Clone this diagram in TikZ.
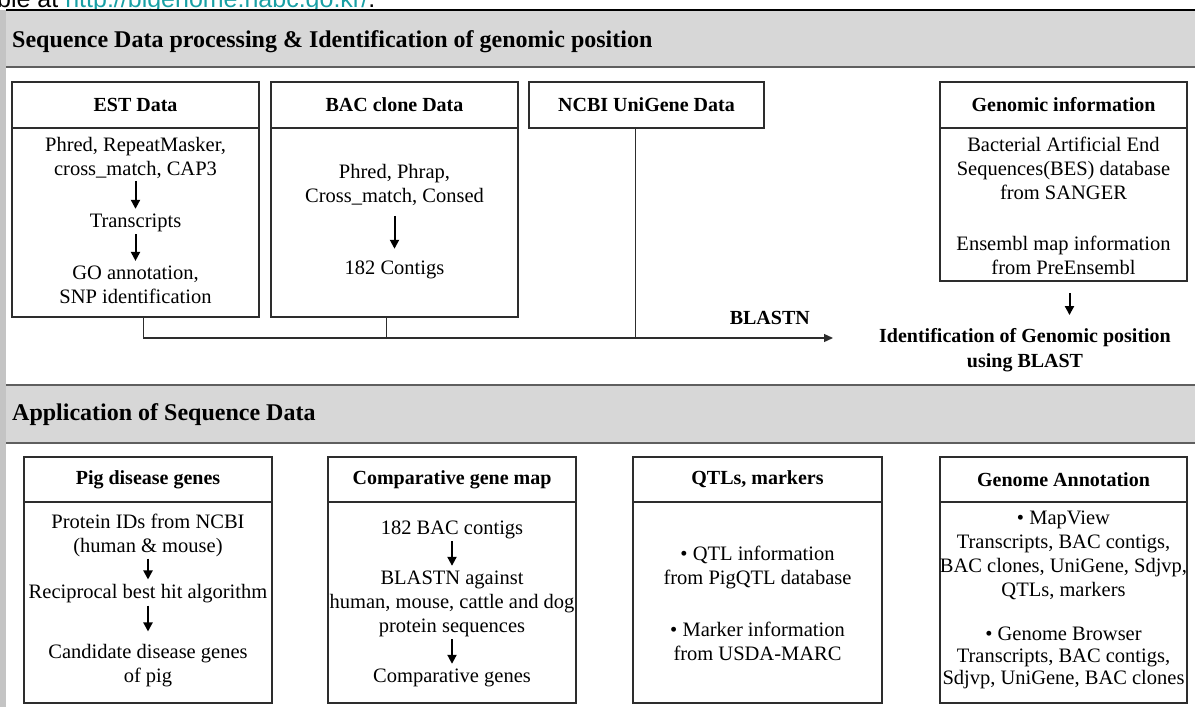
\documentclass[tikz,border=0pt]{standalone}
\usepackage{fontspec}
\setmainfont{Liberation Serif}
\newfontfamily\urlfont{Liberation Sans}
\usepackage{xcolor}
\definecolor{bandgray}{RGB}{215,215,215}
\definecolor{rulegray}{RGB}{95,95,95}
\definecolor{stripgray}{RGB}{196,196,196}
\definecolor{linkteal}{RGB}{25,160,165}
\definecolor{boxline}{RGB}{45,45,45}
\usepackage{tikz}
\usetikzlibrary{arrows.meta,positioning,calc}

\begin{document}
\begin{tikzpicture}[
  x=1pt, y=-1pt,
  head/.style={
    draw=boxline, line width=1.3pt, outer sep=0pt, inner sep=0pt,
    minimum height=46pt, font=\bfseries\fontsize{20}{24}\selectfont
  },
  body/.style={draw=boxline, line width=1.3pt, outer sep=0pt, inner sep=0pt},
  txt/.style={font=\fontsize{20.5}{24}\selectfont, align=center, inner sep=2pt},
  band/.style={font=\bfseries\fontsize{24}{28}\selectfont, anchor=west, inner sep=0pt},
  arr/.style={-{Triangle[length=9pt,width=9pt]}, line width=2pt, shorten >=3pt},
  wire/.style={draw=boxline, line width=1.3pt},
]

\useasboundingbox (0,0) rectangle (1195,707);
\clip (0,0) rectangle (1195,707);

% page strip, cut caption line and the two section bands
\fill[stripgray] (0,10) rectangle (6,707);
\node[font=\urlfont\fontsize{25}{28}\selectfont, anchor=base west, inner sep=0pt]
  (cap) at (-3,7.5) {ble at \textcolor{linkteal}{http://bigenome.nabc.go.kr/}.};
\fill[bandgray] (6,11) rectangle (1195,66);
\draw[black, line width=2pt] (6,10) -- (1195,10);
\draw[rulegray, line width=2pt] (6,67) -- (1195,67);
\fill[bandgray] (6,386) rectangle (1195,443);
\draw[rulegray, line width=2pt] (6,385) -- (1195,385);
\draw[rulegray, line width=2pt] (6,443) -- (1195,443);

\node[band] (sec1) at (12,42) {Sequence Data processing \& Identification of genomic position};
\node[band] (sec2) at (12,415) {Application of Sequence Data};

% upper row of boxes
\node[head, minimum width=247pt] (est) at (135.5,105) {EST Data};
\node[body, minimum width=247pt, minimum height=189pt, below=0pt of est] (estb) {};
\node[head, minimum width=247pt] (bac) at (394.5,105) {BAC clone Data};
\node[body, minimum width=247pt, minimum height=189pt, below=0pt of bac] (bacb) {};
\node[head, minimum width=235pt] (ncbi) at (646.5,105) {NCBI UniGene Data};
\node[head, minimum width=247pt] (gen) at (1063.5,105) {Genomic information};
\node[body, minimum width=247pt, minimum height=153pt, below=0pt of gen] (genb) {};

\node[txt] (e1) at (135.5,158) {Phred, RepeatMasker,\\cross\_match, CAP3};
\node[txt] (e2) at (135.5,223) {Transcripts};
\node[txt] (e3) at (135.5,285) {GO annotation,\\SNP identification};
\draw[arr] (e1) -- (e2);
\draw[arr] (e2) -- (e3);

\node[txt] (b1) at (394.5,185) {Phred, Phrap,\\Cross\_match, Consed};
\node[txt] (b2) at (394.5,270) {182 Contigs};
\draw[arr, shorten <=8pt, shorten >=10pt] (b1) -- (b2);

\node[txt] (g1) at (1063.5,168) {Bacterial Artificial End\\Sequences(BES) database\\from SANGER};
\node[txt] (g2) at (1063.5,255) {Ensembl map information\\from PreEnsembl};

% merging the three sources into BLASTN
\node[txt, font=\bfseries\fontsize{20}{25}\selectfont] (ident) at (1025,350)
  {Identification of Genomic position\\using BLAST};
\coordinate (tip) at (833,338);
\node[txt, font=\bfseries\fontsize{20}{24}\selectfont, anchor=east] (blastn) at (812,318) {BLASTN};
\draw[wire, -{Triangle[length=9pt,width=8pt]}] ([xshift=8pt]estb.south) |- (tip);
\draw[wire] ([xshift=-8pt]bacb.south) -- ([xshift=-8pt]bacb.south |- tip);
\draw[wire] ([xshift=-11pt]ncbi.south) -- ([xshift=-11pt]ncbi.south |- tip);
\draw[arr, shorten <=12pt, shorten >=11pt] ([xshift=6pt]genb.south) -- ([xshift=6pt]genb.south |- ident.north);

% lower row of boxes
\node[head, minimum width=248pt, minimum height=45pt] (pig) at (148,479.5) {Pig disease genes};
\node[body, minimum width=248pt, minimum height=201pt, below=0pt of pig] (pigb) {};
\node[head, minimum width=248pt, minimum height=45pt] (cmp) at (452,479.5) {Comparative gene map};
\node[body, minimum width=248pt, minimum height=201pt, below=0pt of cmp] (cmpb) {};
\node[head, minimum width=249pt, minimum height=45pt] (qtl) at (757.5,479.5) {QTLs, markers};
\node[body, minimum width=249pt, minimum height=201pt, below=0pt of qtl] (qtlb) {};
\node[head, minimum width=247pt, minimum height=45pt] (ann) at (1063.5,479.5) {Genome Annotation};
\node[body, minimum width=247pt, minimum height=201pt, below=0pt of ann] (annb) {};

\node[txt] (p1) at (148,535) {Protein IDs from NCBI\\(human \& mouse)};
\node[txt] (p2) at (148,594) {Reciprocal best hit algorithm};
\node[txt] (p3) at (148,666) {Candidate disease genes\\of pig};
\draw[arr] (p1) -- (p2);
\draw[arr, shorten >=11pt] (p2) -- (p3);

\node[txt] (c1) at (452,530) {182 BAC contigs};
\node[txt] (c2) at (452,604) {BLASTN against\\human, mouse, cattle and dog\\protein sequences};
\node[txt] (c3) at (452,678) {Comparative genes};
\draw[arr] (c1) -- (c2);
\draw[arr] (c2) -- (c3);

\node[txt] (q1) at (757.5,567) {• QTL information\\from PigQTL database};
\node[txt] (q2) at (757.5,641) {• Marker information\\from USDA-MARC};

\node[txt] (a1) at (1063.5,555) {• MapView\\Transcripts, BAC contigs,\\BAC clones, UniGene, Sdjvp,\\QTLs, markers};
\node[txt, font=\fontsize{20.5}{22}\selectfont] (a2) at (1063.5,658) {• Genome Browser\\Transcripts, BAC contigs,\\Sdjvp, UniGene, BAC clones};

\end{tikzpicture}
\end{document}
